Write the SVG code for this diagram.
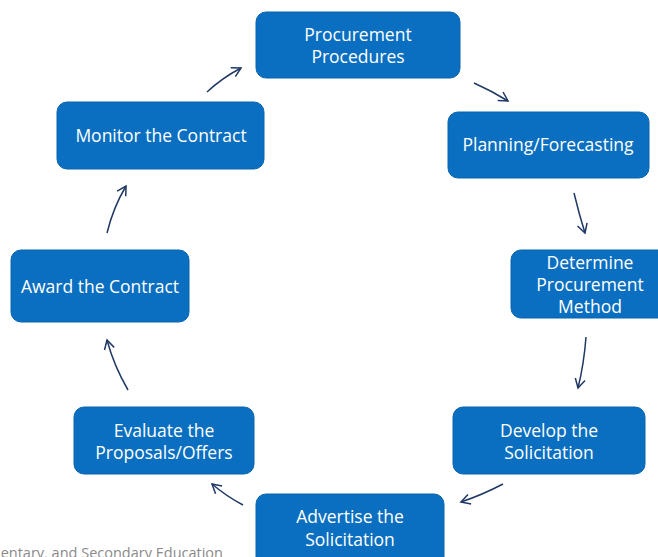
<svg xmlns="http://www.w3.org/2000/svg" width="658" height="557" viewBox="0 0 658 557">
<defs>
<style>
.box{fill:#0A6FC0;stroke:#0A64AE;stroke-width:1}
.t{font-family:"Open Sans","Noto Sans",sans-serif;font-size:17.5px;fill:#ffffff;text-anchor:middle}
.c{fill:none;stroke:#1F3864;stroke-width:1.5;marker-end:url(#ah)}
.foot{font-family:"Open Sans","Noto Sans",sans-serif;font-size:14.5px;fill:#8a8a8a}
</style>
<marker id="ah" viewBox="0 0 12 12" refX="10" refY="6" markerWidth="12" markerHeight="12" markerUnits="userSpaceOnUse" orient="auto">
<path d="M1,1 L10,6 L1,11" fill="none" stroke="#1F3864" stroke-width="1.5"/>
</marker>
</defs>
<rect width="658" height="557" fill="#ffffff"/>
<g id="connectors">
<path class="c" d="M207,92 Q222,78 241,68"/>
<path class="c" d="M474,83 Q492,91 508,101"/>
<path class="c" d="M574,193 Q579,214 585,233"/>
<path class="c" d="M586,337 Q584,364 578,388"/>
<path class="c" d="M503,484 Q482,495 461,502"/>
<path class="c" d="M243,505 Q226,496 212,484"/>
<path class="c" d="M128,390 Q114,366 107,340"/>
<path class="c" d="M107,233 Q113,208 126,186"/>
</g>
<g id="n1"><rect class="box" x="256" y="12" width="204" height="66" rx="10"/><text class="t" x="358" y="41">Procurement</text><text class="t" x="358" y="63">Procedures</text></g>
<g id="n2"><rect class="box" x="448" y="112" width="201" height="66" rx="10"/><text class="t" x="548" y="151">Planning/Forecasting</text></g>
<g id="n3"><rect class="box" x="511" y="250" width="160" height="68" rx="10"/><text class="t" x="590" y="269">Determine</text><text class="t" x="590" y="291">Procurement</text><text class="t" x="590" y="313">Method</text></g>
<g id="n4"><rect class="box" x="453" y="407" width="192" height="67" rx="10"/><text class="t" x="549" y="437">Develop the</text><text class="t" x="549" y="459">Solicitation</text></g>
<g id="n5"><rect class="box" x="256" y="494" width="188" height="75" rx="10"/><text class="t" x="350" y="523">Advertise the</text><text class="t" x="350" y="546">Solicitation</text></g>
<g id="n6"><rect class="box" x="74" y="407" width="180" height="67" rx="10"/><text class="t" x="164" y="437">Evaluate the</text><text class="t" x="164" y="459">Proposals/Offers</text></g>
<g id="n7"><rect class="box" x="11" y="250" width="178" height="72" rx="10"/><text class="t" x="100" y="293">Award the Contract</text></g>
<g id="n8"><rect class="box" x="57" y="102" width="207" height="67" rx="10"/><text class="t" x="161" y="142">Monitor the Contract</text></g>
<text class="foot" x="223" y="558" text-anchor="end">entary, and Secondary Education</text>
</svg>
